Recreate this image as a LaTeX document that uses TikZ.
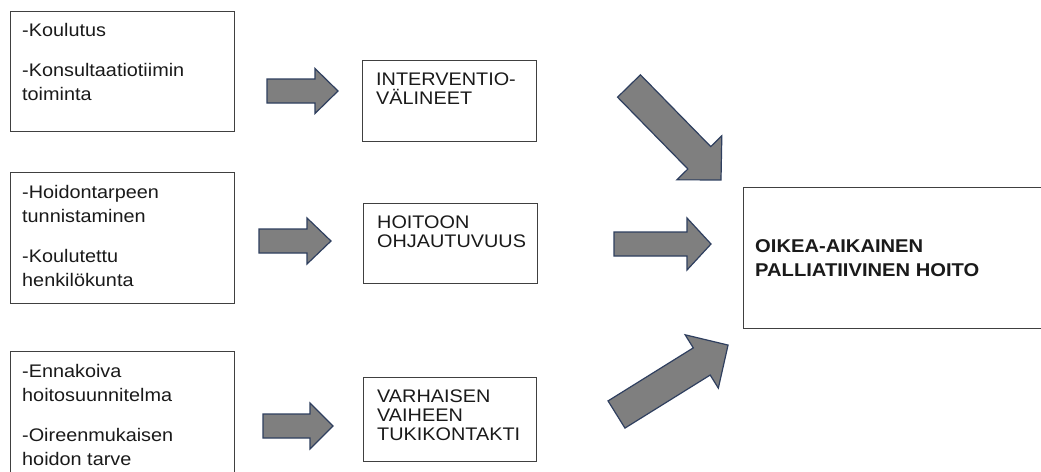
\documentclass[tikz,border=0pt]{standalone}
\usepackage{fontspec}
\setmainfont{Liberation Sans}[FakeStretch=1.09]
\definecolor{boxline}{HTML}{404040}
\definecolor{arrowfill}{HTML}{7F7F7F}
\definecolor{arrowline}{HTML}{2F3F5F}
\definecolor{ink}{HTML}{1A1A1A}
\tikzset{
  box/.style={draw=boxline, line width=1pt, anchor=north west, inner sep=0pt, outer sep=0pt},
  txt/.style={anchor=base west, inner sep=0pt, text=ink, font=\fontsize{18.2}{22}\selectfont},
  hdr/.style={anchor=base west, inner sep=0pt, text=ink, font=\bfseries\fontsize{18.5}{22}\selectfont},
  arrowbody/.style={fill=arrowfill, draw=arrowline, line width=1.2pt, line join=miter},
  % block arrow: total length / shaft half width / head half width / head length
  pics/blockarrow/.style args={#1/#2/#3/#4}{code={
    \draw[arrowbody] (0,#2) -- ({#1-#4},#2) -- ({#1-#4},#3) -- (#1,0)
      -- ({#1-#4},-#3) -- ({#1-#4},-#2) -- (0,-#2) -- cycle;
  }}
}
\begin{document}
\begin{tikzpicture}[x=1pt,y=-1pt]
\clip (0,0) rectangle (1041,471);
\fill[white] (0,0) rectangle (1041,471);

% left column: factors
\node[box, minimum width=224, minimum height=120] (f1) at (10,11) {};
\node[txt] (f1a) at (22,36) {-Koulutus};
\node[txt] (f1b) at (22,76) {-Konsultaatiotiimin};
\node[txt] (f1c) at (22,100) {toiminta};

\node[box, minimum width=224, minimum height=131] (f2) at (10,172) {};
\node[txt] (f2a) at (22,198) {-Hoidontarpeen};
\node[txt] (f2b) at (22,222) {tunnistaminen};
\node[txt] (f2c) at (22,262) {-Koulutettu};
\node[txt] (f2d) at (22,286) {henkilökunta};

\node[box, minimum width=224, minimum height=131] (f3) at (10,351) {};
\node[txt] (f3a) at (22,377) {-Ennakoiva};
\node[txt] (f3b) at (22,401) {hoitosuunnitelma};
\node[txt] (f3c) at (22,441) {-Oireenmukaisen};
\node[txt] (f3d) at (22,465) {hoidon tarve};

% middle column: mechanisms
\node[box, minimum width=174, minimum height=81] (m1) at (362,60) {};
\node[txt] (m1a) at (376,85) {INTERVENTIO-};
\node[txt] (m1b) at (376,104) {VÄLINEET};

\node[box, minimum width=174, minimum height=80] (m2) at (363,203) {};
\node[txt] (m2a) at (377,228) {HOITOON};
\node[txt] (m2b) at (377,247) {OHJAUTUVUUS};

\node[box, minimum width=173, minimum height=84] (m3) at (363,377) {};
\node[txt] (m3a) at (377,402) {VARHAISEN};
\node[txt] (m3b) at (377,421) {VAIHEEN};
\node[txt] (m3c) at (377,440) {TUKIKONTAKTI};

% outcome
\node[box, minimum width=320, minimum height=141] (out) at (743,187) {};
\node[hdr] (outa) at (755,252) {OIKEA-AIKAINEN};
\node[hdr] (outb) at (755,276) {PALLIATIIVINEN HOITO};

% block arrows
\pic (a1) at (267,91) {blockarrow=71/12/22.5/23};
\pic (a2) at (259,241) {blockarrow=72/12/23/24};
\pic (a3) at (263,426) {blockarrow=70/12/23/23};
\pic (a4) at (614,244) {blockarrow=97/12/26/24};
\pic[rotate=-45.6] (a5) at (629,86) {blockarrow=131.5/16/31.5/31};
\pic[rotate=31.9] (a6) at (616.5,414.5) {blockarrow=131.4/16/31.4/31};
\end{tikzpicture}
\end{document}
